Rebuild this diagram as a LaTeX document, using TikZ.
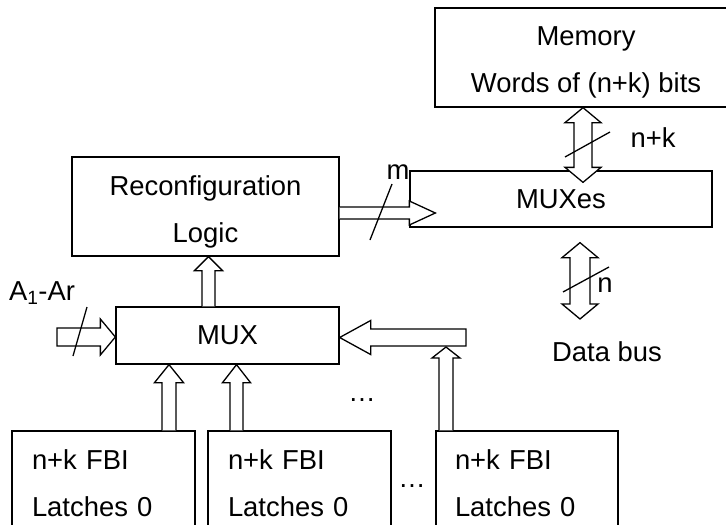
\documentclass[tikz,border=0pt]{standalone}
\usepackage{fontspec}
\setmainfont{Liberation Sans}
\usetikzlibrary{calc}
\newcommand\bigfont{\fontsize{27.4}{47}\selectfont}
\tikzset{
  box/.style={draw, line width=1.3pt, rectangle, inner sep=0pt, align=center, font=\bigfont},
  latch/.style={box, align=left, minimum height=105pt},
  arw/.style={draw, fill=white, line width=1.3pt, line join=miter},
  lab/.style={inner sep=0pt, font=\bigfont},
  slash/.style={line width=1.3pt},
}
% single fat arrow: #1 tail, #2 tip, #3 shaft half width, #4 head half width, #5 head length, #6 cycle or empty
\newcommand\fatarrow[6]{%
  \coordinate (fa-b) at ($(#2)!#5pt!(#1)$);
  \filldraw[arw] ($(#1)!#3pt!90:(#2)$) -- ($(fa-b)!#3pt!90:(#2)$) -- ($(fa-b)!#4pt!90:(#2)$) -- (#2)
     -- ($(fa-b)!#4pt!-90:(#2)$) -- ($(fa-b)!#3pt!-90:(#2)$) -- ($(#1)!#3pt!-90:(#2)$) #6;
}
% double fat arrow: #1 tip one, #2 tip two, #3 shaft half, #4 head half, #5 head length
\newcommand\fatdouble[5]{%
  \coordinate (fd-a) at ($(#1)!#5pt!(#2)$);
  \coordinate (fd-b) at ($(#2)!#5pt!(#1)$);
  \filldraw[arw] ($(fd-b)!#3pt!90:(#1)$) -- ($(fd-a)!#3pt!90:(#1)$) -- ($(fd-a)!#4pt!90:(#1)$) -- (#1)
     -- ($(fd-a)!#4pt!-90:(#1)$) -- ($(fd-a)!#3pt!-90:(#1)$) -- ($(fd-b)!#3pt!-90:(#1)$)
     -- ($(fd-b)!#4pt!-90:(#1)$) -- (#2) -- ($(fd-b)!#4pt!90:(#1)$) -- cycle;
}
\begin{document}
\begin{tikzpicture}[x=1pt, y=-1pt]
\useasboundingbox (0,0) rectangle (726,525);
\clip (0,0) rectangle (726,525);

% boxes
\node[box, minimum width=302pt, minimum height=99pt] (mem) at (586,57.5) {\rule{0pt}{28pt}Memory\\Words of (n+k) bits};
\node[box, minimum width=302pt, minimum height=56pt] (muxes) at (561,199) {MUXes};
\node[box, minimum width=267pt, minimum height=99pt] (rec) at (205.5,206.5) {\rule{0pt}{30pt}Reconfiguration\\Logic};
\node[box, minimum width=223pt, minimum height=57pt] (mux) at (227.5,335.5) {MUX};
\node[latch, minimum width=183pt, text width=143pt] (l1) at (103.5,483.5) {n+k FBI\\Latches 0};
\node[latch, minimum width=183pt, text width=143pt] (l2) at (299.5,483.5) {n+k FBI\\Latches 0};
\node[latch, minimum width=182pt, text width=144pt] (l3) at (527,483.5) {n+k FBI\\Latches 0};

% helper coordinates
\coordinate (xm) at (583,0);
\coordinate (xd) at (580,0);
\coordinate (xr) at (208.5,0);
\coordinate (x1) at (169,0);
\coordinate (x2) at (236.5,0);
\coordinate (x3) at (446,0);
\coordinate (rm) at (0,213);
\coordinate (a1t) at (57,337);
\coordinate (rt) at (466,337.5);

% memory <-> muxes
\coordinate (mmA) at (xm |- mem.south);
\coordinate (mmB0) at (xm |- muxes.north);
\coordinate (mmB) at ($(mmB0)+(0,12)$);
\fatdouble{mmA}{mmB}{9}{18}{15}
\coordinate (s1a) at (565,157);
\coordinate (s1b) at (610,132);
\draw[slash] (s1a) -- (s1b);
\node[lab] (lnk) at (653,138) {n+k};

% data bus
\coordinate (dbA0) at (xd |- muxes.south);
\coordinate (dbA) at ($(dbA0)+(0,15)$);
\coordinate (dbB) at (580,319);
\fatdouble{dbA}{dbB}{10}{18}{15}
\coordinate (s2a) at (563,292);
\coordinate (s2b) at (609,267);
\draw[slash] (s2a) -- (s2b);
\node[lab] (ln) at (605,285) {n};
\node[lab] (ldb) at (607,352) {Data bus};

% reconfig -> muxes
\coordinate (rmT) at (rm -| rec.east);
\coordinate (rmP0) at (rm -| muxes.west);
\coordinate (rmP) at ($(rmP0)+(26,0)$);
\fatarrow{rmT}{rmP}{6}{12}{26}{}
\coordinate (s3a) at (370,240);
\coordinate (s3b) at (392,184);
\draw[slash] (s3a) -- (s3b);
\node[lab] (lm) at (398,172) {m};

% mux -> reconfig
\coordinate (mrT) at (xr |- mux.north);
\coordinate (mrP) at (xr |- rec.south);
\fatarrow{mrT}{mrP}{6.5}{14}{14}{}

% A1-Ar -> mux
\coordinate (aP) at (a1t -| mux.west);
\fatarrow{a1t}{aP}{9}{18}{15}{-- cycle}
\coordinate (s4a) at (73,356);
\coordinate (s4b) at (87,307);
\draw[slash] (s4a) -- (s4b);
\node[lab] (la) at (42,293) {A\textsubscript{1}-Ar};

% right bus -> mux
\coordinate (rtP) at (rt -| mux.east);
\fatarrow{rt}{rtP}{8.5}{17}{31}{-- cycle}

% latches -> mux
\coordinate (t1) at (x1 |- l1.north);
\coordinate (p1) at (x1 |- mux.south);
\fatarrow{t1}{p1}{7}{14.5}{18}{}
\coordinate (t2) at (x2 |- l2.north);
\coordinate (p2) at (x2 |- mux.south);
\fatarrow{t2}{p2}{6.5}{14}{18}{}
\coordinate (t3) at (x3 |- l3.north);
\coordinate (p30) at (x3 |- rt);
\coordinate (p3) at ($(p30)+(0,9.5)$);
\fatarrow{t3}{p3}{7}{14}{11}{}

% dots
\node[lab] (d1) at (362,400) {\ldots};
\node[lab] (d2) at (412,486) {\ldots};
\end{tikzpicture}
\end{document}
